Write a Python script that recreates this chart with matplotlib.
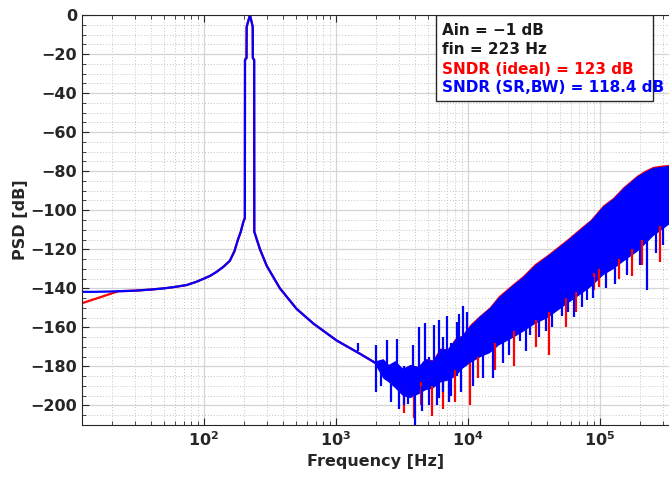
import matplotlib
matplotlib.use("Agg")
import matplotlib.pyplot as plt
from matplotlib.patches import Rectangle
from matplotlib.ticker import FixedLocator, FixedFormatter, LogLocator, NullFormatter, MultipleLocator

plt.rcParams['font.family'] = ['DejaVu Sans']
plt.rcParams['mathtext.default'] = 'bf'

# tone + low frequency part
freq_lf = [11.9, 15, 20, 22.3, 30, 40, 50, 60, 74, 88, 100, 112, 125, 140, 157, 170, 181,
           190, 198.5, 204, 204.5, 210, 210.6, 223, 234, 234.5, 240, 240.5, 265.6, 298.5,
           376, 503, 673, 1011, 1519, 2034]
psd_blue_lf = [-141.8, -141.8, -141.6, -141.5, -141.2, -140.6, -140.0, -139.3, -138.3, -136.6,
               -135.0, -133.5, -131.5, -129.0, -125.9, -121.0, -115.0, -111.0, -106.0, -104.0,
               -23.0, -22.0, -6.0, 0.0, -6.0, -22.0, -23.0, -111.0, -120.0, -128.4,
               -140.0, -150.5, -158.0, -166.7, -173.5, -178.6]
psd_red_lf = [-147.6, -145.4, -142.6, -141.5, -141.2, -140.6, -140.0, -139.3, -138.3, -136.6,
              -135.0, -133.5, -131.5, -129.0, -125.9, -121.0, -115.0, -111.0, -106.0, -104.0,
              -23.0, -22.0, -6.0, 0.0, -6.0, -22.0, -23.0, -111.0, -120.0, -128.4,
              -140.0, -150.5, -158.0, -166.7, -173.5, -178.6]

# shaped noise band (dense FFT bins), upper / lower edges
band_f = [2010, 2270, 2500, 2800, 3200, 3640, 4200, 4720, 5400, 6140, 7000, 7970, 9000,
          10350, 12330, 14500, 17000, 21930, 26000, 32000, 39650, 48000, 58000, 70500,
          85000, 105400, 125000, 150000, 190500, 220000, 252000, 290000, 333600]
band_hi_blue = [-177, -176, -179, -177, -181, -179, -180, -176, -177, -171, -171, -166, -164,
                -159, -154, -150, -144.5, -138, -134, -128, -123.3, -119, -114.5, -109.7,
                -105, -97.8, -94, -88.5, -82.5, -80, -78, -77.5, -77]
band_lo_blue = [-180, -186, -188, -191, -195, -196, -194, -192, -191, -188, -187, -185, -181,
                -178, -175, -173, -169, -165, -162, -158, -155, -151, -147, -143,
                -139, -133, -130, -126, -121, -117, -113, -110, -107]
band_hi_red = [-177.5, -176.5, -179, -177.5, -181, -179, -180, -176, -176.5, -170.5, -171,
               -165.5, -164, -158.4, -153.6, -149.6, -143.8, -137.5, -133.4, -127.3, -122.8,
               -118.4, -114, -109.1, -104.6, -97.2, -93.5, -87.9, -82, -79.4, -77.5, -76.9,
               -76.5]
band_lo_red = [-179, -185, -187, -190, -194, -195, -193, -191, -190, -187, -186, -184, -180,
               -177, -174, -172, -168, -164, -161, -157, -154, -150, -146, -142,
               -138, -132, -129, -125, -120, -116, -112, -109, -106]

# individual spikes: frequency, low end, high end
spk_blue_f = [1480, 2010, 2440, 2890, 3300, 3810, 4240, 4720, 5100, 5530, 6050, 6500, 6960,
              7500, 8230, 8520, 9170, 9800,
              2200, 2600, 3000, 3500, 3950, 4500, 5800, 7200, 8800, 11000, 13000, 15500,
              18500, 20500, 24700, 27500, 29600, 34500, 39000, 43000, 47000, 52000, 57000,
              63800, 73000, 80000, 88000, 112000, 130000, 160000, 200000, 229000, 265000,
              300000]
spk_blue_lo = [-172, -193, -186, -190, -200, -195, -192, -192, -200, -190, -196, -193, -186,
               -195, -185, -183, -180, -178,
               -190, -198, -202, -199, -210, -203, -200, -198, -193, -190, -186, -186,
               -178, -174, -167, -172, -164, -165, -161.6, -160, -150.5, -154, -152,
               -154.8, -149.6, -146, -145, -140, -138, -133, -128, -141, -122, -118]
spk_blue_hi = [-168, -169, -166.7, -166, -180, -169, -160, -157.7, -175, -159, -156, -165, -154,
               -168, -157, -153, -148.8, -152,
               -180, -185, -188, -185, -190, -190, -185, -185, -180, -176, -172, -170,
               -166, -162, -160, -158, -155, -155, -150, -150, -145, -145, -143,
               -140, -138, -135, -134, -128, -126, -122, -118, -113, -110, -106]
spk_red_f = [3300, 3900, 4400, 5300, 6500, 8000, 10350, 12000, 16000, 22500, 33000, 41000,
             55000, 66000, 91000, 99000, 140000, 175000, 210000, 285000]
spk_red_lo = [-204, -206.6, -200, -205.6, -202, -198, -199.8, -186, -182, -180, -170,
              -174.3, -160, -152, -141, -139.5, -135, -133.5, -128, -126.7]
spk_red_hi = [-190, -192, -188, -190, -186, -182, -178, -175, -168, -162, -156, -152,
              -145, -142, -132, -130, -125, -120, -115, -108]

blue = '#0000ff'
red = '#ff0000'

fig = plt.figure(figsize=(6.69, 4.82), dpi=100)
ax = fig.add_axes([82 / 669, 57 / 482, 587 / 669, 410 / 482])

# red first, blue on top
ax.plot(freq_lf, psd_red_lf, color=red, lw=1.6)
ax.fill_between(band_f, band_lo_red, band_hi_red, color=red, lw=0)
ax.vlines(spk_red_f, spk_red_lo, spk_red_hi, color=red, lw=1.6)
ax.plot(freq_lf, psd_blue_lf, color=blue, lw=1.6)
ax.fill_between(band_f, band_lo_blue, band_hi_blue, color=blue, lw=0)
ax.vlines(spk_blue_f, spk_blue_lo, spk_blue_hi, color=blue, lw=1.6)

ax.set_xscale('log')
ax.set_xlim(11.9, 3.34e5)
ax.set_ylim(-210, 0)

ax.xaxis.set_major_locator(FixedLocator([1e2, 1e3, 1e4, 1e5]))
ax.xaxis.set_major_formatter(FixedFormatter([r'$10^{2}$', r'$10^{3}$', r'$10^{4}$', r'$10^{5}$']))
ax.xaxis.set_minor_locator(LogLocator(base=10, subs=range(2, 10), numticks=20))
ax.xaxis.set_minor_formatter(NullFormatter())
ax.yaxis.set_major_locator(MultipleLocator(20))
ax.yaxis.set_minor_locator(MultipleLocator(5))

ax.grid(True, which='major', color='#d4d4d4', lw=0.9)
ax.grid(True, which='minor', color='#c4c4c4', lw=0.7, ls=(0, (1, 2)))
ax.set_axisbelow(True)

ax.tick_params(which='both', direction='in', top=True, right=False, colors='#262626',
               labelsize=11.5)
ax.tick_params(which='major', length=5, width=0.8)
ax.tick_params(which='minor', length=3, width=0.6)
for lab in ax.get_yticklabels():
    lab.set_fontweight('bold')
ax.spines['right'].set_visible(False)
for s in ['left', 'bottom', 'top']:
    ax.spines[s].set_color('#262626')

ax.set_xlabel('Frequency [Hz]', fontsize=11.5, fontweight='bold', color='#262626', labelpad=4)
ax.set_ylabel('PSD [dB]', fontsize=11.5, fontweight='bold', color='#262626', labelpad=2)

# annotation box
ax.add_patch(Rectangle((0.603, 0.790), 0.3697, 0.21, transform=ax.transAxes,
                       facecolor='white', edgecolor='#262626', lw=1.0, zorder=5))
lines = ['Ain = \u22121 dB', 'fin = 223 Hz', 'SNDR (ideal) = 123 dB', 'SNDR (SR,BW) = 118.4 dB']
cols = ['#1a1a1a', '#1a1a1a', red, blue]
ys = [0.963, 0.917, 0.866, 0.822]
for t, c, y in zip(lines, cols, ys):
    ax.text(0.613, y, t, transform=ax.transAxes, color=c, fontsize=11, fontweight='bold',
            va='center', ha='left', zorder=6)

fig.savefig('out.png', dpi=100)
